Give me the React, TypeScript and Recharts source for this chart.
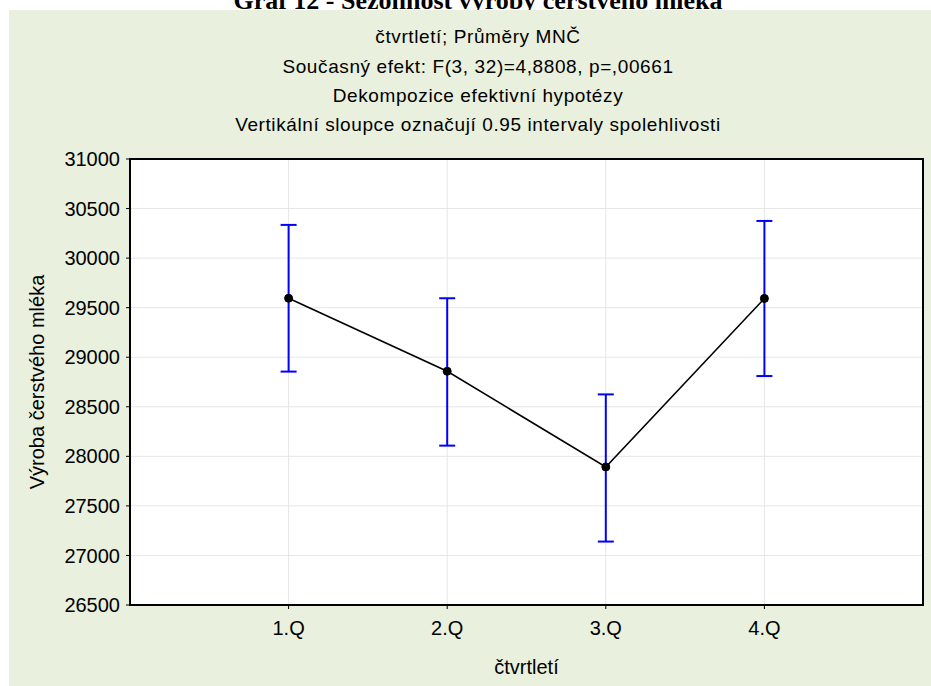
import { ComposedChart, Line, XAxis, YAxis, CartesianGrid, ErrorBar, ReferenceArea, Label } from 'recharts';

const kvartaly = ['1.Q', '2.Q', '3.Q', '4.Q'];
const prumery = [29595, 28858, 27893, 29593];
const dolniMez = [28855, 28108, 27140, 28810];
const horniMez = [30335, 29595, 28625, 30375];
const yTicks = [26500, 27000, 27500, 28000, 28500, 29000, 29500, 30000, 30500, 31000];

const podtitulky = [
  'čtvrtletí; Průměry MNČ',
  'Současný efekt: F(3, 32)=4,8808, p=,00661',
  'Dekompozice efektivní hypotézy',
  'Vertikální sloupce označují 0.95 intervaly spolehlivosti',
];
const podtitulkyY = [43, 73, 102, 131];

const data = kvartaly.map((q, i) => ({
  x: i + 1,
  prumer: prumery[i],
  ci: [prumery[i] - dolniMez[i], horniMez[i] - prumery[i]],
}));

const font = '"Liberation Sans", Arial, sans-serif';

export default function App() {
  return (
    <div style={{ position: 'absolute', left: 0, top: 0, width: 931, height: 686, background: '#fff', overflow: 'hidden' }}>
      <svg width={931} height={10} style={{ position: 'absolute', left: 0, top: 0 }}>
        <text x={478} y={9} textAnchor="middle" fontFamily='"Liberation Serif", "Times New Roman", serif' fontWeight="bold" fontSize={26}>
          Graf 12 - Sezónnost výroby čerstvého mléka
        </text>
      </svg>
      <div style={{ position: 'absolute', left: 9, top: 10, width: 922, height: 676, background: '#e9f0dd' }} />
      <svg width={931} height={150} style={{ position: 'absolute', left: 0, top: 0 }}>
        {podtitulky.map((t, i) => (
          <text key={i} x={478} y={podtitulkyY[i]} textAnchor="middle" fontFamily={font} fontSize={19} letterSpacing={0.6} fill="#000">
            {t}
          </text>
        ))}
      </svg>
      <div style={{ position: 'absolute', left: 0, top: 0 }}>
        <ComposedChart width={931} height={686} data={data} margin={{ top: 159, right: 8, bottom: 41, left: 70 }}>
          <CartesianGrid stroke="#e6e6e6" fill="#ffffff" />
          <XAxis
            dataKey="x"
            type="number"
            domain={[0, 5]}
            ticks={[1, 2, 3, 4]}
            tickFormatter={(v: number) => kvartaly[v - 1]}
            height={40}
            axisLine={false}
            tickLine={{ stroke: '#000' }}
            tickSize={4}
            tick={{ fill: '#000', fontSize: 20, fontFamily: font, dy: 10 }}
          >
            <Label value="čtvrtletí" position="insideBottom" offset={-29} style={{ fill: '#000', fontSize: 20, fontFamily: font }} />
          </XAxis>
          <YAxis
            type="number"
            domain={[26500, 31000]}
            ticks={yTicks}
            interval={0}
            width={60}
            axisLine={false}
            tickLine={{ stroke: '#000' }}
            tickSize={4}
            tick={{ fill: '#000', fontSize: 20, fontFamily: font, dx: -4 }}
          >
            <Label value="Výroba čerstvého mléka" angle={-90} position="insideLeft" offset={-33} style={{ fill: '#000', fontSize: 20, fontFamily: font, textAnchor: 'middle' }} />
          </YAxis>
          <ReferenceArea x1={0} x2={5} y1={26500} y2={31000} fill="none" fillOpacity={0} stroke="#000" strokeWidth={2} ifOverflow="visible" />
          <Line
            dataKey="prumer"
            stroke="#000"
            strokeWidth={1.6}
            dot={{ r: 4, fill: '#000', stroke: '#000', strokeWidth: 1 }}
            activeDot={false}
            isAnimationActive={false}
          >
            <ErrorBar dataKey="ci" width={8} stroke="#0000ff" strokeWidth={2} direction="y" isAnimationActive={false} />
          </Line>
        </ComposedChart>
      </div>
    </div>
  );
}
